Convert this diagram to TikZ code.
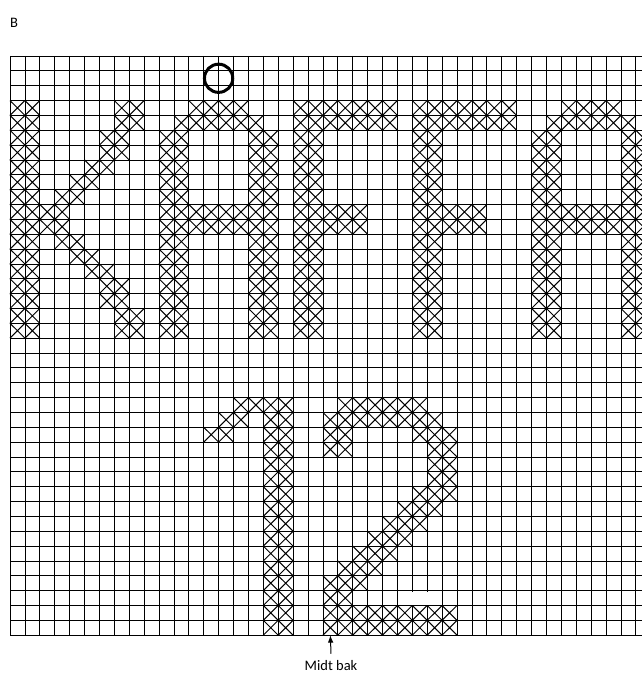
\documentclass[tikz,border=0pt]{standalone}
\usepackage{fontspec}
\setmainfont{Carlito}
\usetikzlibrary{arrows.meta}

% stitched cells: columns #1 to #2, rows #3 to #4
\newcommand{\xblock}[4]{%
  \foreach \c in {#1,...,#2}{%
    \foreach \r in {#3,...,#4}{%
      \draw[stitch] (\c,\r) -- ++(1,1) (\c+1,\r) -- ++(-1,1);}}}

\begin{document}
\begin{tikzpicture}[x=1bp,y=-1bp,>=Latex,
    gridline/.style={line width=0.8bp,black},
    stitch/.style={line width=1bp,black},
    txt/.style={font=\fontsize{14.5bp}{16bp}\selectfont,inner sep=0pt}]
  \useasboundingbox (0,0) rectangle (642,673);
  \clip (0,0) rectangle (642,673);
  \node[txt,anchor=base west] (side) at (10,28) {B};
  \begin{scope}[shift={(10,56)},x=14.9bp,y=-14.85bp]
    \foreach \k in {0,...,43}
      \draw[gridline] (\k,0) -- (\k,39);
    \foreach \k in {0,...,39}
      \draw[gridline] (0,\k) -- (43,\k);
    \fill[white] (26.95,36.06) rectangle (28.05,36.94);
    % K
    \xblock{0}{1}{3}{18}
    \xblock{7}{8}{3}{4}
    \xblock{6}{7}{5}{6}
    \xblock{5}{6}{7}{7}
    \xblock{4}{5}{8}{8}
    \xblock{3}{4}{9}{9}
    \xblock{2}{3}{10}{11}
    \xblock{3}{4}{12}{12}
    \xblock{4}{5}{13}{13}
    \xblock{5}{6}{14}{14}
    \xblock{6}{7}{15}{16}
    \xblock{7}{8}{17}{18}
    % A
    \xblock{10}{11}{5}{18}
    \xblock{12}{15}{3}{3}
    \xblock{11}{16}{4}{4}
    \xblock{16}{17}{5}{18}
    \xblock{12}{15}{10}{11}
    % F
    \xblock{19}{20}{3}{18}
    \xblock{21}{25}{3}{4}
    \xblock{21}{23}{10}{11}
    % F
    \xblock{27}{28}{3}{18}
    \xblock{29}{33}{3}{4}
    \xblock{29}{31}{10}{11}
    % A
    \xblock{35}{36}{5}{18}
    \xblock{37}{40}{3}{3}
    \xblock{36}{41}{4}{4}
    \xblock{41}{42}{5}{18}
    \xblock{37}{40}{10}{11}
    % 1
    \xblock{15}{18}{23}{23}
    \xblock{14}{15}{24}{24}
    \xblock{13}{14}{25}{25}
    \xblock{17}{18}{24}{38}
    % 2
    \xblock{22}{27}{23}{23}
    \xblock{21}{28}{24}{24}
    \xblock{21}{22}{25}{26}
    \xblock{27}{29}{25}{25}
    \xblock{28}{29}{26}{28}
    \xblock{27}{29}{29}{29}
    \xblock{26}{28}{30}{30}
    \xblock{25}{27}{31}{31}
    \xblock{24}{26}{32}{32}
    \xblock{23}{25}{33}{33}
    \xblock{22}{24}{34}{34}
    \xblock{21}{23}{35}{35}
    \xblock{21}{22}{36}{36}
    \xblock{21}{29}{37}{38}
    % start mark
    \draw[line width=3bp] (14,1.5) circle[radius=0.95];
    \coordinate (back) at (21.5,39);
  \end{scope}
  \node[txt,anchor=base] (mid) at (331,670) {Midt bak};
  \draw[->,line width=1bp] ([yshift=6bp]mid.north) -- (back);
\end{tikzpicture}
\end{document}
